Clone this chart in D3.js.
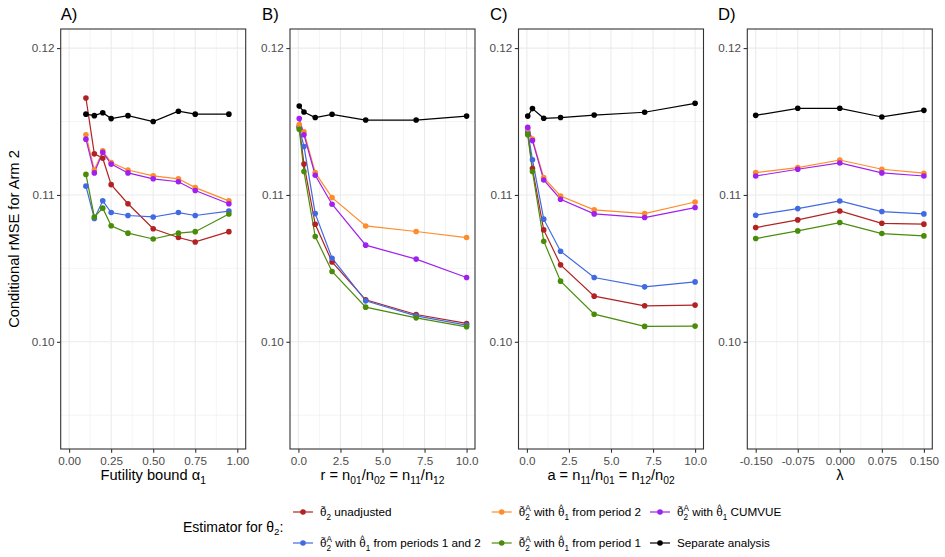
<!DOCTYPE html>
<html>
<head lang="en">
    <meta charset="UTF-8">
    <title></title>
    <style>
        body { margin: 0; background: #fff; }
        text { font-family: "Liberation Sans", Arial, sans-serif; }
    </style>
</head>
<body>
<svg width="945" height="557"></svg>
<script src="https://cdn.jsdelivr.net/npm/d3@7/dist/d3.min.js"></script>
<script>
    // x values per panel
    var xA = [0.1, 0.15, 0.2, 0.25, 0.35, 0.5, 0.65, 0.75, 0.95];
    var xB = [0.05, 0.33, 1, 2, 4, 7, 10];
    var xC = [0.05, 0.33, 1, 2, 4, 7, 10];
    var xD = [-0.15, -0.075, 0, 0.075, 0.15];

    // panel A: futility bound
    var unadjA  = [0.1166, 0.1128, 0.1125, 0.1107, 0.1094, 0.1077, 0.1071, 0.1068, 0.1075];
    var p12A    = [0.1106, 0.1084, 0.1096, 0.1088, 0.1086, 0.1085, 0.1088, 0.1086, 0.1089];
    var p2A     = [0.1141, 0.1117, 0.1130, 0.1122, 0.1117, 0.1113, 0.1111, 0.1105, 0.1096];
    var p1A     = [0.1114, 0.1085, 0.1091, 0.1079, 0.1074, 0.1070, 0.1074, 0.1075, 0.1087];
    var cumvueA = [0.1138, 0.1115, 0.1129, 0.1121, 0.1115, 0.1111, 0.1109, 0.1103, 0.1094];
    var sepA    = [0.1155, 0.1154, 0.1156, 0.1152, 0.1154, 0.1150, 0.1157, 0.1155, 0.1155];

    // panel B: r
    var unadjB  = [0.11465, 0.1121, 0.1080, 0.10544, 0.10286, 0.10186, 0.10125];
    var p12B    = [0.1146, 0.1133, 0.10873, 0.10569, 0.10279, 0.10177, 0.10114];
    var p2B     = [0.1148, 0.1143, 0.11152, 0.10982, 0.10789, 0.10751, 0.1071];
    var p1B     = [0.11447, 0.1116, 0.10717, 0.10479, 0.10236, 0.10163, 0.10102];
    var cumvueB = [0.1152, 0.1141, 0.11134, 0.10937, 0.10658, 0.10563, 0.10438];
    var sepB    = [0.11605, 0.11565, 0.11527, 0.11549, 0.1151, 0.1151, 0.11537];

    // panel C: a
    var unadjC  = [0.1142, 0.1118, 0.10762, 0.10524, 0.10311, 0.10245, 0.1025];
    var p12C    = [0.1143, 0.1124, 0.10835, 0.10617, 0.10438, 0.10374, 0.10408];
    var p2C     = [0.1145, 0.1138, 0.11118, 0.10993, 0.10898, 0.10873, 0.10952];
    var p1C     = [0.1141, 0.1116, 0.10685, 0.10413, 0.10188, 0.10105, 0.10107];
    var cumvueC = [0.1146, 0.1137, 0.11102, 0.10971, 0.10871, 0.10846, 0.10914];
    var sepC    = [0.11537, 0.11588, 0.11522, 0.11527, 0.11544, 0.11563, 0.11624];

    // panel D: lambda
    var unadjD  = [0.10778, 0.1083, 0.10891, 0.10807, 0.10801];
    var p12D    = [0.10862, 0.10907, 0.10959, 0.10887, 0.10871];
    var p2D     = [0.11152, 0.11186, 0.11238, 0.11175, 0.11148];
    var p1D     = [0.10703, 0.10755, 0.10812, 0.10737, 0.10721];
    var cumvueD = [0.11129, 0.11175, 0.11218, 0.1115, 0.11129];
    var sepD    = [0.11542, 0.1159, 0.1159, 0.11531, 0.11576];

    var yTicks = [0.10, 0.11, 0.12];
    var yMinor = [0.095, 0.105, 0.115];
    var xTicksA = [0, 0.25, 0.5, 0.75, 1];
    var xTicksB = [0, 2.5, 5, 7.5, 10];
    var xTicksD = [-0.15, -0.075, 0, 0.075, 0.15];

    // legend order (column-major in the reference): red, blue, orange, green, purple, black
    var seriesKeys = ["unadj", "p12", "p2", "p1", "cumvue", "sep"];
    var seriesColors = ["#B22222", "#4169E1", "#FF8C2A", "#4A8C0A", "#A020F0", "#000000"];
    var thetaA = [["θ", "n"], ["~", "tilde"], ["2", "sub"], ["A", "stack"], [" with ", "n"], ["θ", "n"], ["^", "hat"], ["1", "sub"]];
    var seriesLabels = [
        [["θ", "n"], ["~", "tilde"], ["2", "sub"], [" unadjusted", "n"]],
        thetaA.concat([[" from periods 1 and 2", "n"]]),
        thetaA.concat([[" from period 2", "n"]]),
        thetaA.concat([[" from period 1", "n"]]),
        thetaA.concat([[" CUMVUE", "n"]]),
        [["Separate analysis", "n"]]
    ];

    var panels = [
        {tag: "A)", left: 60.7, x: xA, dom: [0, 1], ticks: xTicksA, fmt: function (d) { return d.toFixed(2); },
         xlab: [["Futility bound α", "n"], ["1", "sub"]],
         ys: [unadjA, p12A, p2A, p1A, cumvueA, sepA]},
        {tag: "B)", left: 290, x: xB, dom: [0, 10], ticks: xTicksB, fmt: function (d) { return d.toFixed(1); },
         xlab: [["r = n", "n"], ["01", "sub"], ["/n", "n"], ["02", "sub"], [" = n", "n"], ["11", "sub"], ["/n", "n"], ["12", "sub"]],
         ys: [unadjB, p12B, p2B, p1B, cumvueB, sepB]},
        {tag: "C)", left: 518.5, x: xC, dom: [0, 10], ticks: xTicksB, fmt: function (d) { return d.toFixed(1); },
         xlab: [["a = n", "n"], ["11", "sub"], ["/n", "n"], ["01", "sub"], [" = n", "n"], ["12", "sub"], ["/n", "n"], ["02", "sub"]],
         ys: [unadjC, p12C, p2C, p1C, cumvueC, sepC]},
        {tag: "D)", left: 747.3, x: xD, dom: [-0.15, 0.15], ticks: xTicksD, fmt: function (d) { return d.toFixed(3); },
         xlab: [["λ", "n"]],
         ys: [unadjD, p12D, p2D, p1D, cumvueD, sepD]}
    ];

    var svg = d3.select("svg");
    var PW = 185, TOP = 29, BOTTOM = 449;
    var tagX = [60.7, 262, 490, 718];

    function expand(dom) {
        var e = (dom[1] - dom[0]) * 0.05;
        return [dom[0] - e, dom[1] + e];
    }

    // text with sub/superscripts and accents drawn over the previous glyph
    function rich(sel, parts) {
        var shift = 0, prevW = 0, back = 0;
        parts.forEach(function (p) {
            var m = p[1];
            var ts = sel.append("tspan").text(p[0]);
            var target = m === "sub" ? 3.5 : m === "stack" ? -5 : m === "tilde" ? -6.5 : m === "hat" ? -5 : 0;
            ts.attr("dy", target - shift);
            shift = target;
            if (m !== "n") ts.attr("font-size", "0.7em");
            var dx = back;
            back = 0;
            if (m === "stack") dx += -prevW;
            if (m === "tilde" || m === "hat") {
                var w = ts.node().getComputedTextLength();
                dx += -(prevW + w) / 2;
                back = (prevW - w) / 2;
            }
            if (dx) ts.attr("dx", dx);
            prevW = ts.node().getComputedTextLength();
        });
    }

    var yScale = d3.scaleLinear().domain(expand([0.094, 0.120])).range([BOTTOM, TOP]);

    panels.forEach(function (p, pi) {
        var xScale = d3.scaleLinear().domain(expand(p.dom)).range([p.left, p.left + PW]);
        var g = svg.append("g");

        // grid
        var step = p.ticks[1] - p.ticks[0];
        var xMinor = p.ticks.slice(0, -1).map(function (t) { return t + step / 2; });
        g.selectAll(".gyminor").data(yMinor).enter().append("line")
            .attr("x1", p.left).attr("x2", p.left + PW)
            .attr("y1", yScale).attr("y2", yScale)
            .attr("stroke", "#EBEBEB").attr("stroke-width", 0.55);
        g.selectAll(".gxminor").data(xMinor).enter().append("line")
            .attr("y1", TOP).attr("y2", BOTTOM)
            .attr("x1", xScale).attr("x2", xScale)
            .attr("stroke", "#EBEBEB").attr("stroke-width", 0.55);
        g.selectAll(".gymajor").data(yTicks).enter().append("line")
            .attr("x1", p.left).attr("x2", p.left + PW)
            .attr("y1", yScale).attr("y2", yScale)
            .attr("stroke", "#EBEBEB").attr("stroke-width", 1.1);
        g.selectAll(".gxmajor").data(p.ticks).enter().append("line")
            .attr("y1", TOP).attr("y2", BOTTOM)
            .attr("x1", xScale).attr("x2", xScale)
            .attr("stroke", "#EBEBEB").attr("stroke-width", 1.1);

        // series
        var lineGen = d3.line()
            .x(function (d) { return xScale(d[0]); })
            .y(function (d) { return yScale(d[1]); });
        p.ys.forEach(function (vals, si) {
            var pts = d3.zip(p.x, vals);
            g.append("path")
                .attr("d", lineGen(pts))
                .attr("fill", "none")
                .attr("stroke", seriesColors[si])
                .attr("stroke-width", 1.2);
        });
        p.ys.forEach(function (vals, si) {
            var pts = d3.zip(p.x, vals);
            g.selectAll(".pt" + si).data(pts).enter().append("circle")
                .attr("cx", function (d) { return xScale(d[0]); })
                .attr("cy", function (d) { return yScale(d[1]); })
                .attr("r", 2.8)
                .attr("fill", seriesColors[si]);
        });

        // border
        g.append("rect")
            .attr("x", p.left).attr("y", TOP)
            .attr("width", PW).attr("height", BOTTOM - TOP)
            .attr("fill", "none").attr("stroke", "#333333").attr("stroke-width", 1.1);

        // axes
        var yAxis = d3.axisLeft(yScale).tickValues(yTicks)
            .tickFormat(function (d) { return d.toFixed(2); })
            .tickSize(3.7).tickPadding(2.5);
        var xAxis = d3.axisBottom(xScale).tickValues(p.ticks)
            .tickFormat(p.fmt).tickSize(3.7).tickPadding(4);
        var ya = g.append("g").attr("transform", "translate(" + p.left + ",0)").call(yAxis);
        var xa = g.append("g").attr("transform", "translate(0," + BOTTOM + ")").call(xAxis);
        [ya, xa].forEach(function (a) {
            a.select(".domain").remove();
            a.selectAll(".tick line").attr("stroke", "#333333").attr("stroke-width", 1.1);
            a.selectAll(".tick text").attr("fill", "#4D4D4D")
                .style("font-family", "'Liberation Sans', Arial, sans-serif")
                .style("font-size", "11.7px");
        });

        // tag
        svg.append("text").attr("x", tagX[pi]).attr("y", 20)
            .attr("font-size", 16.7).attr("fill", "#000").text(p.tag);

        // x title
        var xt = svg.append("text")
            .attr("x", p.left + PW / 2).attr("y", 480)
            .attr("text-anchor", "middle").attr("font-size", 14.67).attr("fill", "#000");
        rich(xt, p.xlab);
    });

    // y title
    svg.append("text")
        .attr("transform", "translate(19,239) rotate(-90)")
        .attr("text-anchor", "middle").attr("font-size", 14.67).attr("fill", "#000")
        .text("Conditional rMSE for Arm 2");

    // legend
    var legTitle = svg.append("text").attr("x", 183).attr("y", 531.5)
        .attr("font-size", 14).attr("fill", "#000");
    rich(legTitle, [["Estimator for θ", "n"], ["2", "sub"], [":", "n"]]);

    var keyX = [293, 491.7, 650];
    var rowY = [512, 543];
    seriesKeys.forEach(function (k, i) {
        var cx = keyX[Math.floor(i / 2)], cy = rowY[i % 2];
        svg.append("line").attr("x1", cx).attr("x2", cx + 20)
            .attr("y1", cy).attr("y2", cy)
            .attr("stroke", seriesColors[i]).attr("stroke-width", 1.2);
        svg.append("circle").attr("cx", cx + 10).attr("cy", cy).attr("r", 2.8)
            .attr("fill", seriesColors[i]);
        var t = svg.append("text").attr("x", cx + 27).attr("y", cy + 4.3)
            .attr("font-size", 11.7).attr("fill", "#000");
        rich(t, seriesLabels[i]);
    });
</script>
</body>
</html>
